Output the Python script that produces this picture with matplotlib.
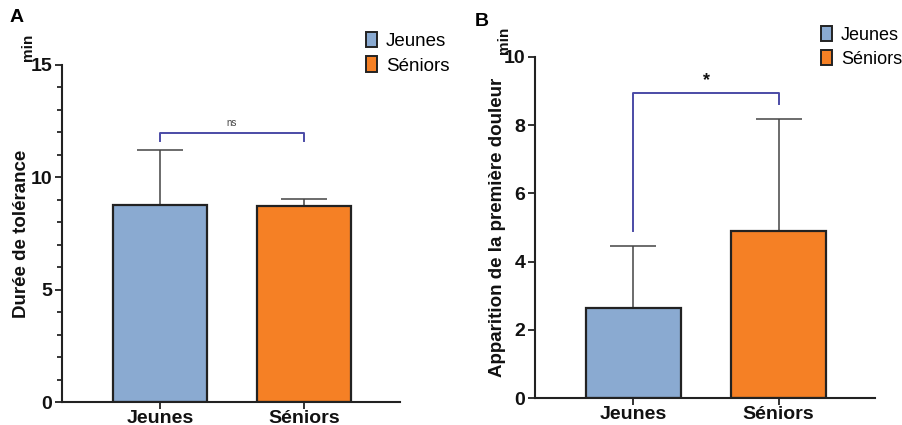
import numpy as np
import matplotlib.pyplot as plt
from matplotlib.patches import Patch

plt.rcParams['font.family'] = ['Liberation Sans', 'DejaVu Sans']

groups = ['Jeunes', 'Séniors']
colors = ['#8aaad1', '#f58025']

# durée de tolérance (min)
tol_mean = [8.77, 8.72]
tol_sd = [2.45, 0.32]

# apparition de la première douleur (min)
pain_mean = [2.64, 4.90]
pain_sd = [1.82, 3.28]

fig = plt.figure(figsize=(9.02, 4.25), dpi=100)
axA = fig.add_axes([0.0687, 0.0541, 0.3748, 0.793])
axB = fig.add_axes([0.593, 0.0635, 0.377, 0.8025])

bracket_col = '#4b4ba6'


def bar_panel(ax, means, sds, ymax, major, minor, ylabel, legsize):
    x = np.arange(len(groups))
    ax.bar(x, means, width=0.65, color=colors, edgecolor='#222222', linewidth=1.6, zorder=2)
    ax.errorbar(x, means, yerr=[np.zeros(len(sds)), sds], fmt='none',
                ecolor='#444444', elinewidth=1.1, capsize=16.5, capthick=1.1, zorder=1)
    ax.set_xlim(-0.68, 1.665)
    ax.set_ylim(0, ymax)
    ax.set_yticks(np.arange(0, ymax + 0.01, major))
    if minor:
        ax.set_yticks(np.arange(0, ymax + 0.01, minor), minor=True)
    ax.set_xticks(x)
    ax.set_xticklabels(groups)
    for s in ['top', 'right']:
        ax.spines[s].set_visible(False)
    for s in ['left', 'bottom']:
        ax.spines[s].set_linewidth(1.5)
        ax.spines[s].set_color('#222222')
    ax.tick_params(axis='both', width=1.3, length=5, colors='#222222', labelsize=14)
    ax.tick_params(axis='x', pad=0.5)
    ax.tick_params(axis='y', pad=2)
    ax.tick_params(axis='y', which='minor', width=1.1, length=3.5)
    for lab in ax.get_xticklabels() + ax.get_yticklabels():
        lab.set_fontweight('bold')
        lab.set_color('#111111')
    ax.set_ylabel(ylabel, fontsize=13.5, fontweight='bold', color='#111111')
    ax.legend(handles=[Patch(facecolor=c, edgecolor='#222222', linewidth=1.4) for c in colors],
              labels=groups, loc='upper left', frameon=False, fontsize=legsize,
              handlelength=0.6, handleheight=0.9, handletextpad=0.5, labelspacing=0.35,
              borderaxespad=0)


bar_panel(axA, tol_mean, tol_sd, 15, 5, 1, 'Durée de tolérance', 13.5)
axA.get_legend().set_bbox_to_anchor((358 / 902, 1 - 24 / 425), transform=fig.transFigure)
axA.yaxis.set_label_coords(-0.095, 0.5)

bar_panel(axB, pain_mean, pain_sd, 10, 2, None, 'Apparition de la première douleur', 13)
axB.get_legend().set_bbox_to_anchor((814 / 902, 1 - 19 / 425), transform=fig.transFigure)
axB.yaxis.set_label_coords(-0.085, 0.5)

# significance brackets
axA.plot([0, 0, 1, 1], [11.6, 11.97, 11.97, 11.6], color=bracket_col, lw=1.4, clip_on=False)
axA.text(0.5, 12.2, 'ns', ha='center', va='bottom', fontsize=7, color='#444444')

axB.plot([0, 0, 1, 1], [4.9, 8.94, 8.94, 8.62], color=bracket_col, lw=1.4, clip_on=False)
axB.text(0.5, 9.05, '*', ha='center', va='bottom', fontsize=13, fontweight='bold', color='#111111')

# unit labels and panel letters
fig.text(28 / 902, 1 - 47 / 425, 'min', rotation=90, ha='center', va='center',
         fontsize=11, fontweight='bold', color='#111111')
fig.text(504 / 902, 1 - 40 / 425, 'min', rotation=90, ha='center', va='center',
         fontsize=11, fontweight='bold', color='#111111')
fig.text(17 / 902, 1 - 18 / 425, 'A', ha='center', va='center', fontsize=14, fontweight='bold')
fig.text(482 / 902, 1 - 21 / 425, 'B', ha='center', va='center', fontsize=14, fontweight='bold')

fig.savefig('out.png', dpi=100)
